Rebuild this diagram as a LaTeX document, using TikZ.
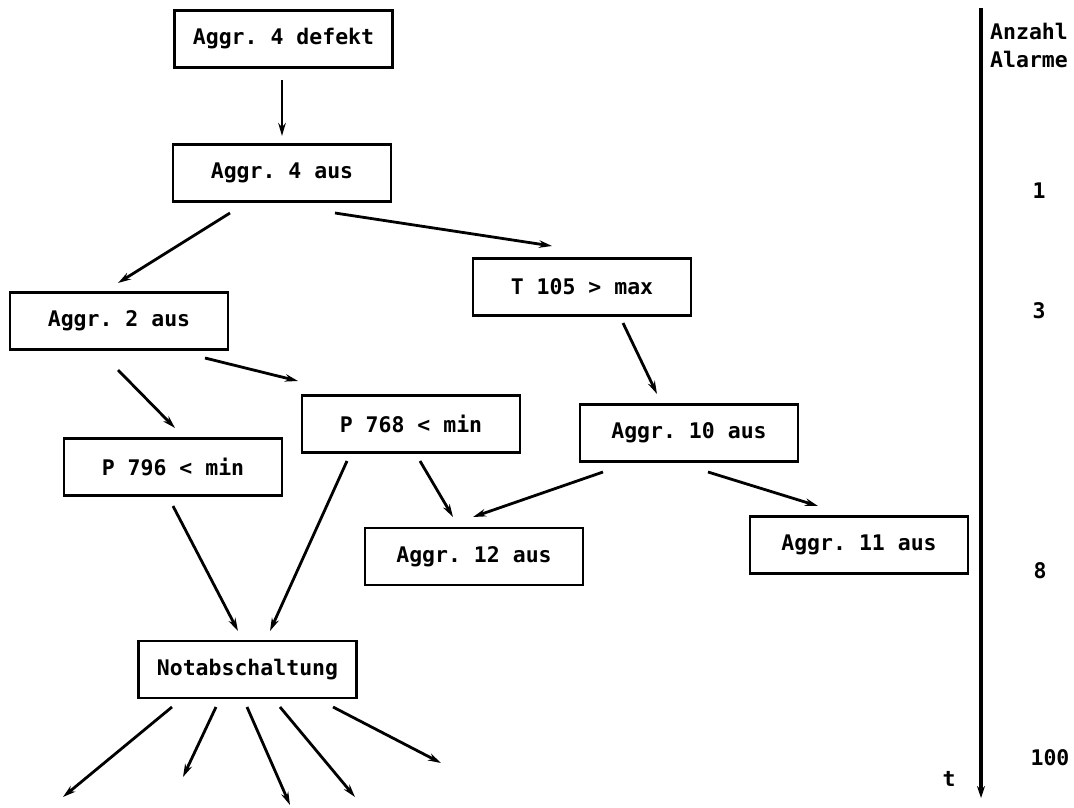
\documentclass[tikz,border=0pt]{standalone}
\usepackage{fontspec}
\setmonofont{DejaVu Sans Mono}
\usetikzlibrary{arrows.meta}
\begin{document}
\begin{tikzpicture}[x=1pt,y=-1pt,
  txt/.style={font=\ttfamily\bfseries\fontsize{21.5}{26}\selectfont},
  box/.style={txt,draw,line width=2.4pt,minimum width=218pt,minimum height=57pt,inner sep=0pt},
  arr/.style={line width=2.8pt,-{Stealth[length=13pt,width=7.5pt]}},
  lbl/.style={txt,inner sep=0pt}]
\useasboundingbox (0,0) rectangle (1074,807);

% event boxes
\node[box] (b1)  at (283.5,39)  {Aggr. 4 defekt};
\node[box] (b2)  at (282,173)   {Aggr. 4 aus};
\node[box] (b3)  at (119,321)   {Aggr. 2 aus};
\node[box] (b4)  at (582,287)   {T 105 > max};
\node[box] (b5)  at (173,467)   {P 796 < min};
\node[box] (b6)  at (411,424)   {P 768 < min};
\node[box] (b7)  at (689,433)   {Aggr. 10 aus};
\node[box] (b8)  at (474,556.5) {Aggr. 12 aus};
\node[box] (b9)  at (859,545)   {Aggr. 11 aus};
\node[box] (b10) at (247.5,669.5) {Notabschaltung};

% cause -> effect arrows
\draw[arr] ([shift={(-1.5,41)}]b1.center) -- ([shift={(0,-37)}]b2.center);
\draw[arr] ([shift={(-52,40)}]b2.center) -- ([shift={(-1,-38)}]b3.center);
\draw[arr] ([shift={(53,40)}]b2.center) -- ([shift={(-30,-41)}]b4.center);
\draw[arr] ([shift={(-1,49)}]b3.center) -- ([shift={(2,-39)}]b5.center);
\draw[arr] ([shift={(86,37)}]b3.center) -- ([shift={(-113,-43)}]b6.center);
\draw[arr] ([shift={(41,36)}]b4.center) -- ([shift={(-32,-39)}]b7.center);
\draw[arr] ([shift={(9,37)}]b6.center) -- ([shift={(-21,-39.5)}]b8.center);
\draw[arr] ([shift={(-86,39)}]b7.center) -- ([shift={(-1,-39.5)}]b8.center);
\draw[arr] ([shift={(19,39)}]b7.center) -- ([shift={(-41,-39)}]b9.center);
\draw[arr] ([shift={(0,39)}]b5.center) -- ([shift={(-9.5,-38.5)}]b10.center);
\draw[arr] ([shift={(-64,37)}]b6.center) -- ([shift={(22.5,-38.5)}]b10.center);

% fan-out below the emergency shutdown
\coordinate (o1) at (63,797);
\coordinate (o2) at (183,777);
\coordinate (o3) at (290,805);
\coordinate (o4) at (355,797);
\coordinate (o5) at (441,763);
\draw[arr] ([shift={(-75.5,37.5)}]b10.center) -- (o1);
\draw[arr] ([shift={(-31.5,37.5)}]b10.center) -- (o2);
\draw[arr] ([shift={(-0.5,37.5)}]b10.center) -- (o3);
\draw[arr] ([shift={(32.5,37.5)}]b10.center) -- (o4);
\draw[arr] ([shift={(85.5,37.5)}]b10.center) -- (o5);

% time axis with alarm counts
\coordinate (ttop) at (981,8);
\coordinate (tbot) at (981,798);
\draw[line width=3.2pt,-{Stealth[length=12pt,width=8pt]}] (ttop) -- (tbot);
\node[lbl,anchor=base west] (h1) at (990,39) {Anzahl};
\node[lbl,anchor=base west] (h2) at (990,67) {Alarme};
\node[lbl,anchor=base] (n1) at (1039,198) {1};
\node[lbl,anchor=base] (n3) at (1039,318) {3};
\node[lbl,anchor=base] (n8) at (1040,578) {8};
\node[lbl,anchor=base] (n100) at (1050,765) {100};
\node[lbl,anchor=base] (tl) at (949,786) {t};
\end{tikzpicture}
\end{document}
